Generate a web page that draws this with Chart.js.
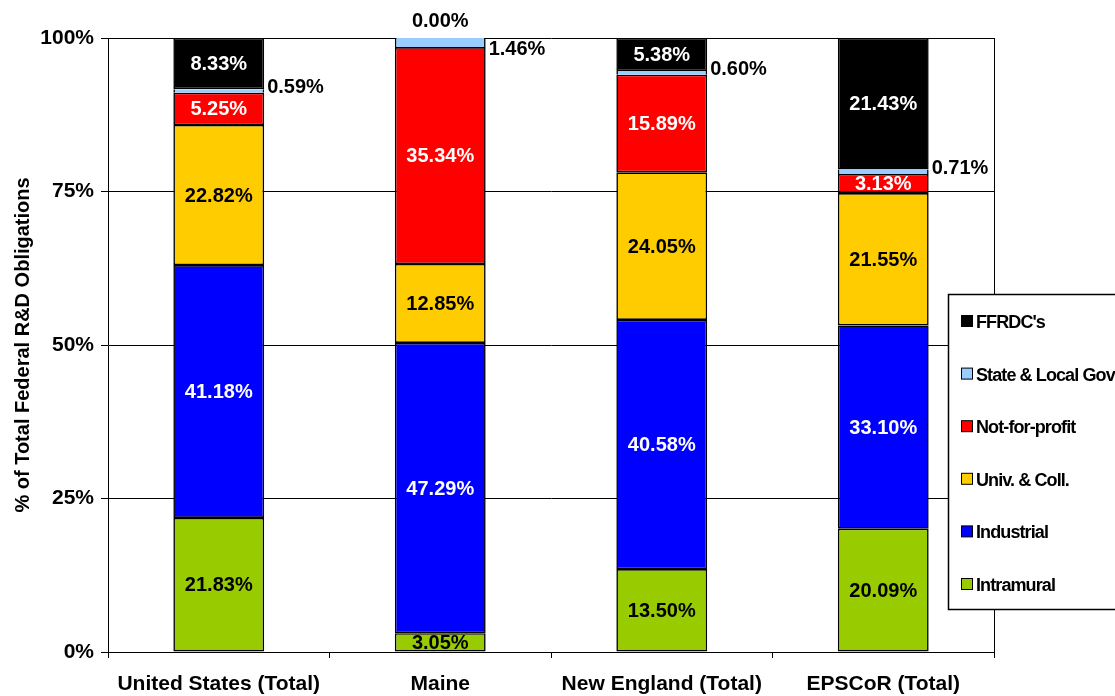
<!DOCTYPE html>
<html>
<head>
<meta charset="utf-8">
<script src="https://cdn.jsdelivr.net/npm/chart.js@4.4.1/dist/chart.umd.min.js"></script>
<style>
  body { margin: 0; background: #fff; }
  #wrap { width: 1115px; height: 696px; position: relative; }
</style>
</head>
<body>
<div id="wrap"><canvas id="rdChart"></canvas></div>
<script>
const categories = ['United States (Total)', 'Maine', 'New England (Total)', 'EPSCoR (Total)'];
const intramural = [21.83, 3.05, 13.50, 20.09];
const industrial = [41.18, 47.29, 40.58, 33.10];
const univColl = [22.82, 12.85, 24.05, 21.55];
const notForProfit = [5.25, 35.34, 15.89, 3.13];
const stateLocal = [0.59, 1.46, 0.60, 0.71];
const ffrdc = [8.33, 0.00, 5.38, 21.43];
const yTicks = [0, 25, 50, 75, 100];

const FONT = "'Liberation Sans', Arial, sans-serif";

const seriesDefs = [
    { label: 'Intramural', data: intramural, color: '#99CC00', text: '#000000' },
    { label: 'Industrial', data: industrial, color: '#0000FF', text: '#FFFFFF' },
    { label: 'Univ. & Coll.', data: univColl, color: '#FFCC00', text: '#000000' },
    { label: 'Not-for-profit', data: notForProfit, color: '#FF0000', text: '#FFFFFF' },
    { label: 'State & Local Gov', data: stateLocal, color: '#99CCFF', text: '#000000', outside: true },
    { label: "FFRDC's", data: ffrdc, color: '#000000', text: '#FFFFFF' }
];

// value labels on every segment
const valueLabels = {
    id: 'valueLabels',
    afterDatasetsDraw(chart) {
        const ctx = chart.ctx;
        const area = chart.chartArea;
        ctx.save();
        ctx.font = 'bold 20px ' + FONT;
        ctx.textBaseline = 'middle';
        chart.data.datasets.forEach((ds, i) => {
            const meta = chart.getDatasetMeta(i);
            meta.data.forEach((bar, j) => {
                const v = ds.data[j];
                const txt = v.toFixed(2) + '%';
                const props = bar.getProps(['x', 'y', 'base', 'width'], true);
                if (v === 0) {
                    ctx.fillStyle = '#000';
                    ctx.textAlign = 'center';
                    ctx.fillText(txt, props.x, props.y - 17);
                } else if (ds.outside) {
                    ctx.fillStyle = '#000';
                    ctx.textAlign = 'left';
                    const cy = Math.max((props.y + props.base) / 2 - 3, area.top + 11);
                    ctx.fillText(txt, props.x + props.width / 2 + 3, cy);
                } else {
                    ctx.fillStyle = ds.textColor;
                    ctx.textAlign = 'center';
                    ctx.fillText(txt, props.x, (props.y + props.base) / 2 + 1);
                }
            });
        });
        ctx.restore();
    }
};

// plot frame on the right + boxed legend overlapping the plot
const frameAndLegend = {
    id: 'frameAndLegend',
    afterDraw(chart) {
        const ctx = chart.ctx;
        const area = chart.chartArea;
        ctx.save();
        ctx.strokeStyle = '#000';
        ctx.lineWidth = 1;
        ctx.beginPath();
        ctx.moveTo(Math.round(area.right) + 0.5, area.top);
        ctx.lineTo(Math.round(area.right) + 0.5, area.bottom);
        ctx.stroke();

        const bx = 948.5, by = 294.5, bw = 220, bh = 315;
        ctx.fillStyle = '#fff';
        ctx.fillRect(bx, by, bw, bh);
        ctx.lineWidth = 1.5;
        ctx.strokeRect(bx, by, bw, bh);

        const items = chart.data.datasets.slice().reverse();
        ctx.font = 'bold 18px ' + FONT;
        ctx.letterSpacing = '-0.9px';
        ctx.textBaseline = 'middle';
        ctx.textAlign = 'left';
        ctx.lineWidth = 1;
        items.forEach((ds, k) => {
            const cy = 322 + k * 52.6;
            ctx.fillStyle = ds.backgroundColor;
            ctx.fillRect(961.5, cy - 6.5, 11, 11);
            ctx.strokeStyle = '#000';
            ctx.strokeRect(961.5, cy - 6.5, 11, 11);
            ctx.fillStyle = '#000';
            ctx.fillText(ds.label, 976, cy + 1);
        });
        ctx.restore();
    }
};

const ctx = document.getElementById('rdChart').getContext('2d');
const chart = new Chart(ctx, {
    type: 'bar',
    data: {
        labels: categories,
        datasets: seriesDefs.map(s => ({
            label: s.label,
            data: s.data,
            backgroundColor: s.color,
            borderColor: '#000000',
            // thin segments keep only side borders so the fill stays visible
            borderWidth: s.outside ? { top: 0, bottom: 0, left: 1.6, right: 1.6 } : 1.6,
            borderSkipped: false,
            textColor: s.text,
            outside: !!s.outside,
            categoryPercentage: 1.0,
            barPercentage: 0.41
        }))
    },
    options: {
        responsive: true,
        maintainAspectRatio: false,
        animation: false,
        layout: { padding: { left: 0, top: 38, right: 121, bottom: 0 } },
        plugins: {
            legend: { display: false },
            tooltip: { enabled: false }
        },
        scales: {
            x: {
                stacked: true,
                grid: {
                    offset: true,
                    drawOnChartArea: false,
                    drawTicks: true,
                    tickLength: 6,
                    color: '#000'
                },
                border: { color: '#000', width: 1 },
                ticks: {
                    color: '#000',
                    padding: 14,
                    font: { family: FONT, size: 21, weight: 'bold' }
                },
                afterFit: scale => { scale.height = 44; }
            },
            y: {
                stacked: true,
                min: 0,
                max: 100,
                afterBuildTicks: scale => { scale.ticks = yTicks.map(v => ({ value: v })); },
                grid: { color: '#000', tickLength: 7, lineWidth: 1 },
                border: { color: '#000', width: 1 },
                ticks: {
                    color: '#000',
                    padding: 7,
                    font: { family: FONT, size: 21, weight: 'bold' },
                    callback: v => v + '%'
                },
                title: {
                    display: true,
                    text: '% of Total Federal R&D Obligations',
                    color: '#000',
                    font: { family: FONT, size: 20, weight: 'bold' },
                    padding: { top: 11, bottom: 0 }
                },
                afterFit: scale => { scale.width = 108; }
            }
        }
    },
    plugins: [valueLabels, frameAndLegend]
});
</script>
</body>
</html>
